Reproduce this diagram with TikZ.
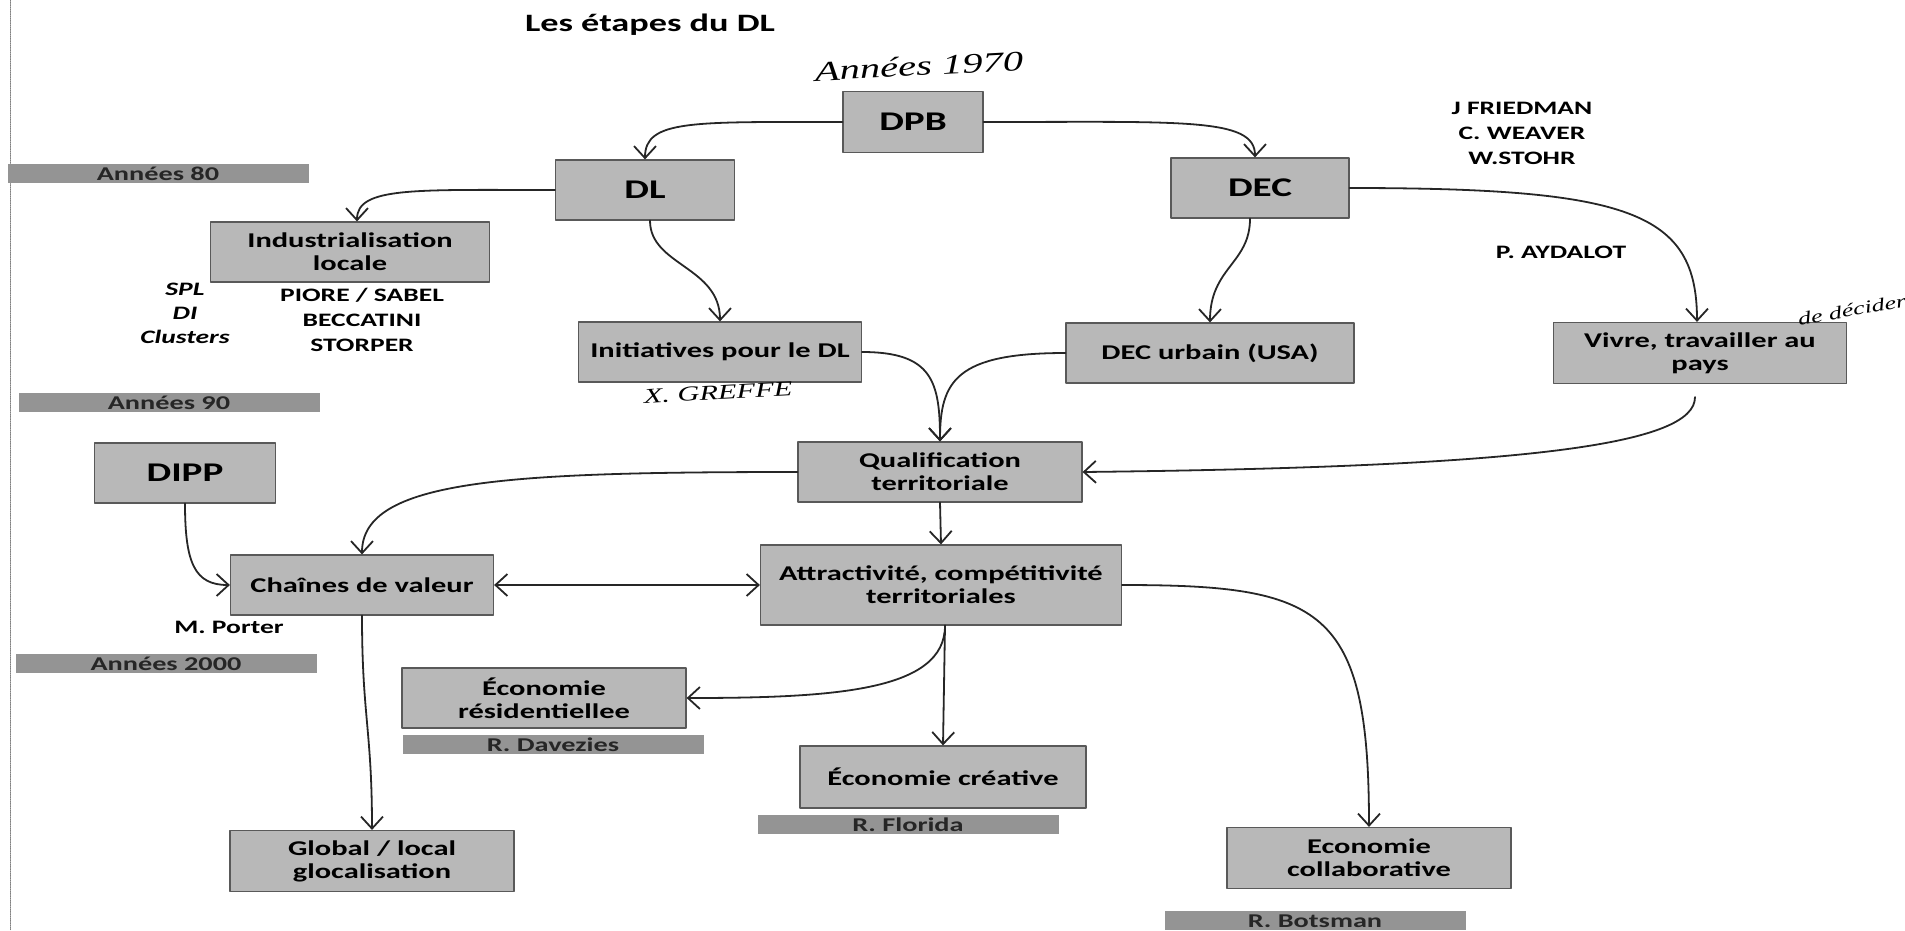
\documentclass[tikz,border=0pt]{standalone}
\usepackage{fontspec}
\setmainfont{Carlito}[FakeStretch=1.45]
\newfontfamily\manuscrit{Liberation Serif}[FakeStretch=1.45]
\usetikzlibrary{arrows.meta}

\tikzset{
	boite/.style={draw=black!65, fill=black!28, line width=1.2pt, align=center, inner sep=0pt,
		font=\fontsize{21}{23}\selectfont\bfseries},
	grande/.style={boite, font=\fontsize{27}{27}\selectfont\bfseries},
	barre/.style={fill=black!42, text=black!85, inner sep=0pt, minimum height=19pt, minimum width=301pt,
		text height=14pt, text depth=0pt, font=\fontsize{19.5}{19.5}\selectfont\bfseries},
	nom/.style={align=center, font=\fontsize{19}{25}\selectfont\bfseries},
	manus/.style={font=\manuscrit\itshape\fontsize{28}{28}\selectfont},
	fleche/.style={->, draw=black!85, line width=1.8pt}
}

\begin{document}
\begin{tikzpicture}[x=1pt, y=-1pt, line join=round, line cap=round,
		>={Straight Barb[length=12pt,width=22pt]}]
	\useasboundingbox (0,0) rectangle (1905,930);
	\draw[black!50, densely dotted, line width=0.8pt] (10,0) -- (10,930);
	
	\node[font=\fontsize{25}{25}\selectfont\bfseries] (titre) at (650,25) {Les étapes du DL};
	\node[manus, rotate=3] (an70) at (919,66) {Années 1970};
	
	\node[grande, minimum width=140pt, minimum height=61pt] (dpb) at (913,122) {DPB};
	\node[grande, minimum width=179pt, minimum height=60pt] (dl) at (645,190) {DL};
	\node[grande, minimum width=178pt, minimum height=60pt] (dec) at (1260,188) {DEC};
	\node[boite, minimum width=279pt, minimum height=60pt] (indus) at (350,252) {Industrialisation\\locale};
	\node[boite, minimum width=283pt, minimum height=60pt] (init) at (720,352) {Initiatives pour le DL};
	\node[boite, minimum width=288pt, minimum height=60pt] (decu) at (1210,353) {DEC urbain (USA)};
	\node[boite, minimum width=293pt, minimum height=61pt] (vivre) at (1700,353) {Vivre, travailler au\\pays};
	\node[boite, minimum width=284pt, minimum height=60pt] (qualif) at (940,472) {Qualification\\territoriale};
	\node[grande, minimum width=181pt, minimum height=60pt] (dipp) at (185,473) {DIPP};
	\node[boite, minimum width=263pt, minimum height=60pt] (chaines) at (362,585) {Chaînes de valeur};
	\node[boite, minimum width=361pt, minimum height=80pt] (attract) at (941,585) {Attractivité, compétitivité\\territoriales};
	\node[boite, minimum width=284pt, minimum height=60pt] (resid) at (544,698) {Économie\\résidentiellee};
	\node[boite, minimum width=286pt, minimum height=62pt] (creat) at (943,777) {Économie créative};
	\node[boite, minimum width=284pt, minimum height=61pt] (global) at (372,861) {Global / local\\glocalisation};
	\node[boite, minimum width=284pt, minimum height=61pt] (collab) at (1369,858) {Economie\\collaborative};
	
	\node[barre] (a80) at (158,173) {Années 80};
	\node[barre] (a90) at (169,402) {Années 90};
	\node[barre] (a2000) at (166,663) {Années 2000};
	\node[barre] (davezies) at (553,744) {R. Davezies};
	\node[barre] (florida) at (908,824) {R. Florida};
	\node[barre] (botsman) at (1315,920) {R. Botsman};
	
	\node[nom, font=\fontsize{19}{24}\selectfont\bfseries\itshape] (spl) at (185,313) {SPL\\DI\\Clusters};
	\node[nom] (piore) at (362,320) {PIORE / SABEL\\BECCATINI\\STORPER};
	\node[nom] (friedman) at (1522,133) {J FRIEDMAN\\C. WEAVER\\W.STOHR};
	\node[nom] (aydalot) at (1561,252) {P. AYDALOT};
	\node[nom] (porter) at (229,627) {M. Porter};
	\node[manus, font=\manuscrit\itshape\fontsize{21}{21}\selectfont, rotate=3] (greffe) at (718,393) {X. GREFFE};
	\node[manus, font=\manuscrit\itshape\fontsize{18}{18}\selectfont, rotate=10] (decider) at (1852,310) {de décider};
	
	\draw[fleche] (dpb.west) .. controls +(-150,0) and +(0,-40) .. (dl.north);
	\draw[fleche] (dpb.east) .. controls +(200,0) and +(0,-40) .. ([xshift=-5pt]dec.north);
	\draw[fleche] (dl.west) .. controls +(-140,0) and +(0,-35) .. ([xshift=7pt]indus.north);
	\draw[fleche] ([xshift=5pt]dl.south) .. controls +(0,45) and +(0,-55) .. (init.north);
	\draw[fleche] ([xshift=-10pt]dec.south) .. controls +(0,45) and +(0,-55) .. (decu.north);
	\draw[fleche] (dec.east) .. controls +(280,0) and +(0,-110) .. ([xshift=-3pt]vivre.north);
	\draw[fleche] (init.east) .. controls +(70,0) and +(0,-60) .. (qualif.north);
	\draw[fleche] (decu.west) .. controls +(-110,0) and +(0,-60) .. (qualif.north);
	\draw[fleche, shorten <=13pt] ([xshift=-5pt]vivre.south) .. controls +(0,60) and +(450,-5) .. (qualif.east);
	\draw[fleche] (qualif.west) .. controls +(-290,0) and +(0,-75) .. (chaines.north);
	\draw[fleche] (qualif.south) -- (attract.north);
	\draw[fleche] (dipp.south) .. controls +(0,60) and +(-35,0) .. (chaines.west);
	\draw[fleche, <->] (chaines.east) -- (attract.west);
	\draw[fleche] (chaines.south) .. controls +(0,100) and +(0,-100) .. (global.north);
	\draw[fleche] ([xshift=4pt]attract.south) .. controls +(0,65) and +(150,0) .. (resid.east);
	\draw[fleche] ([xshift=4pt]attract.south) -- (creat.north);
	\draw[fleche] (attract.east) .. controls +(200,0) and +(0,-220) .. (collab.north);
\end{tikzpicture}
\end{document}
